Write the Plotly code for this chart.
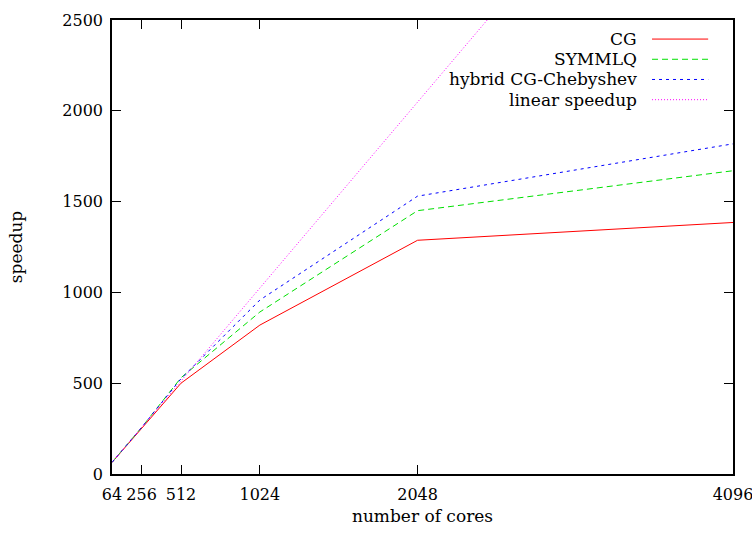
import plotly.graph_objects as go

cores = [64, 256, 512, 1024, 2048, 4096]
cg = [64, 250, 500, 820, 1287, 1385]
symmlq = [64, 256, 530, 892, 1450, 1670]
hybrid = [64, 256, 525, 958, 1530, 1818]
linear = [64, 256, 512, 1024, 2048, 4096]

names = ["CG", "SYMMLQ", "hybrid CG-Chebyshev", "linear speedup"]
colors = ["#ff0000", "#00e000", "#0000ff", "#ff00ff"]
dashes = ["solid", "6px,4px", "3px,4px", "1px,2px"]
series = [cg, symmlq, hybrid, linear]

x_ticks = [64, 256, 512, 1024, 2048, 4096]
y_ticks = [0, 500, 1000, 1500, 2000, 2500]

FONT = "DejaVu Serif"
FS = 17
TFS = 16

fig = go.Figure()
for n, c, d, s in zip(names, colors, dashes, series):
    fig.add_trace(go.Scatter(x=cores, y=s, mode="lines", name=n,
                             line=dict(color=c, width=1, dash=d),
                             showlegend=False))

# gnuplot-style legend: right-aligned text with sample line on the right
for i, (n, c, d) in enumerate(zip(names, colors, dashes)):
    yy = 0.958 - i * 0.0445
    fig.add_annotation(xref="paper", yref="paper", x=0.849, y=yy, text=n,
                       showarrow=False, xanchor="right", yanchor="middle",
                       font=dict(family=FONT, size=FS, color="black"))
    fig.add_shape(type="line", xref="paper", yref="paper",
                  x0=0.8696, x1=0.96, y0=yy, y1=yy,
                  line=dict(color=c, width=1, dash=d))

axis_common = dict(showgrid=False, zeroline=False, showline=True, linecolor="black",
                   linewidth=1.5, mirror="allticks", ticks="inside", ticklen=9,
                   tickcolor="black", tickwidth=1, automargin=False,
                   ticklabeloverflow="allow",
                   tickfont=dict(family=FONT, size=TFS, color="black"))

fig.update_xaxes(range=[64, 4096], tickvals=x_ticks, ticktext=[str(v) for v in x_ticks],
                 ticklabelstandoff=5,
                 title=dict(text="number of cores", font=dict(family=FONT, size=FS, color="black"),
                            standoff=7),
                 **axis_common)
fig.update_yaxes(range=[0, 2500], tickvals=y_ticks, ticktext=[str(v) for v in y_ticks],
                 ticklabelstandoff=4,
                 title=dict(text="speedup", font=dict(family=FONT, size=FS, color="black"),
                            standoff=35),
                 **axis_common)

fig.update_layout(width=752, height=533, margin=dict(l=112, r=19, t=20, b=59),
                  plot_bgcolor="white", paper_bgcolor="white",
                  font=dict(family=FONT, size=FS, color="black"))

fig.write_html("out.html")
